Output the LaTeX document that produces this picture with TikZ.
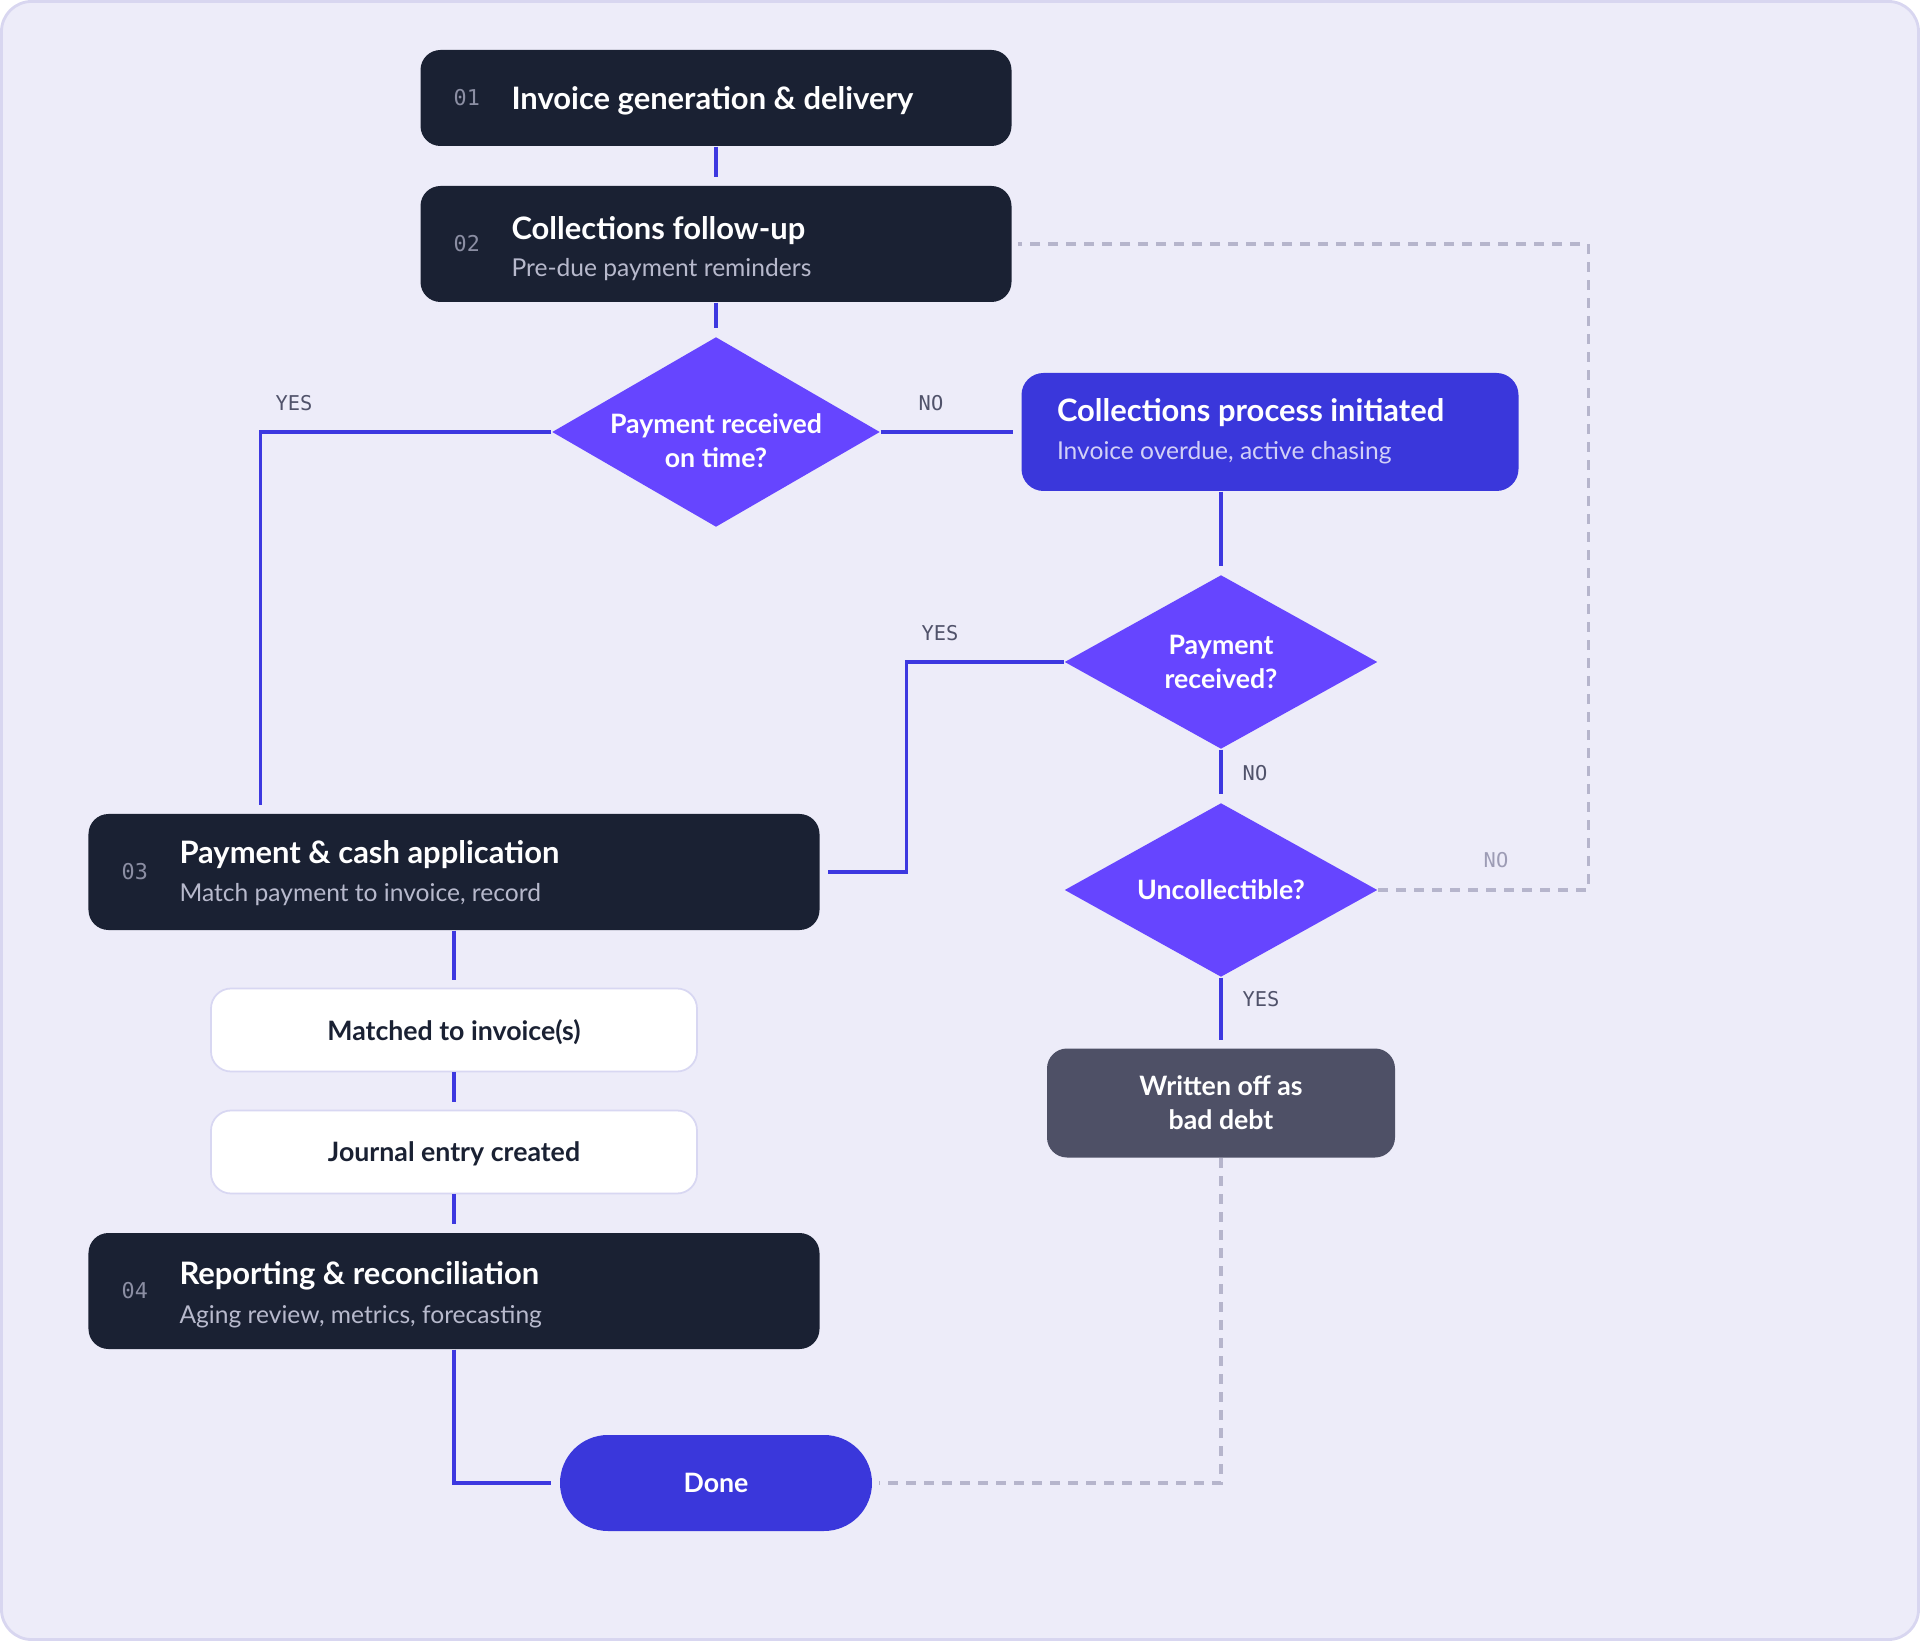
\documentclass[tikz,border=0pt]{standalone}
\usepackage{fontspec}
\setmainfont{Lato}
\newfontfamily\monofam{DejaVu Sans Mono}
\usetikzlibrary{shapes.geometric}
\newcommand{\stepfnt}{\fontsize{8.8}{10.5}\selectfont\bfseries}
\newcommand{\subfnt}{\fontsize{7}{8.4}\selectfont}
\newcommand{\askfnt}{\fontsize{7.6}{9.7}\selectfont\bfseries}
\newcommand{\numfnt}{\monofam\fontsize{6.2}{7}\selectfont}
\newcommand{\lblfnt}{\monofam\fontsize{5.8}{7}\selectfont}
\definecolor{canvas}{HTML}{EDECF9}
\definecolor{frame}{HTML}{D8D6F0}
\definecolor{ink}{HTML}{1A2133}
\definecolor{wire}{HTML}{3D38E0}
\definecolor{violet}{HTML}{6645FF}
\definecolor{royal}{HTML}{3A37DB}
\definecolor{slate}{HTML}{4E5066}
\definecolor{dashgray}{HTML}{B6B5CC}
\definecolor{numgray}{HTML}{8B8EA3}
\definecolor{hintgray}{HTML}{B7B9CC}
\definecolor{chasegray}{HTML}{D2D0F7}
\definecolor{rim}{HTML}{D8D7F2}
\definecolor{lblgray}{HTML}{50526A}
\definecolor{lblpale}{HTML}{9D9CB5}

\begin{document}
\begin{tikzpicture}[
  x=1mm, y=1mm,
  stage/.style={fill=ink, rounded corners=2mm, inner sep=0pt, minimum width=59.1mm, minimum height=11.6mm},
  wide/.style={stage, minimum width=73.1mm},
  chase/.style={fill=royal, rounded corners=2.2mm, inner sep=0pt, minimum width=49.7mm, minimum height=11.8mm},
  note/.style={fill=white, draw=rim, line width=0.5pt, rounded corners=2mm, minimum width=48.6mm, minimum height=8.3mm, text depth=0pt, font=\askfnt, text=ink},
  ask/.style={diamond, fill=violet, aspect=1.7, inner sep=0pt, minimum width=31.3mm, minimum height=17.4mm, align=center, font=\askfnt, text=white},
  asktext/.style={align=center, font=\askfnt, text=white, inner sep=0pt},
  loss/.style={fill=slate, rounded corners=2mm, minimum width=34.8mm, minimum height=10.9mm, align=center, font=\askfnt, text=white},
  term/.style={fill=royal, rounded corners=4.8mm, minimum width=31.2mm, minimum height=9.6mm, text depth=0pt, font=\askfnt, text=white},
  num/.style={font=\numfnt, text=numgray, inner sep=0pt},
  head/.style={font=\stepfnt, text=white, anchor=base west, inner sep=0pt},
  hint/.style={font=\subfnt, text=hintgray, anchor=base west, inner sep=0pt},
  lbl/.style={font=\lblfnt, text=lblgray, inner sep=0pt},
  flow/.style={draw=wire, line width=0.9pt, shorten >=0.8mm},
  back/.style={draw=dashgray, line width=0.9pt, dash pattern=on 1mm off 0.8mm, shorten >=0.6mm},
]
  \useasboundingbox (0,0) rectangle (192,-164.1);
  \fill[white] (0,0) rectangle (192,-164.1);
  \draw[frame, fill=canvas, line width=0.8pt, rounded corners=3mm] (0.15,-0.15) rectangle (191.85,-163.95);

  \node[stage, minimum height=9.6mm] (inv) at (71.6,-9.8) {};
  \node[num] (inv-n) at ([xshift=4.7mm]inv.west) {01};
  \node[head] (inv-t) at ([xshift=9.1mm, yshift=-1.2mm]inv.west) {Invoice generation \& delivery};

  \node[stage] (fup) at (71.6,-24.4) {};
  \node[num] (fup-n) at ([xshift=4.7mm]fup.west) {02};
  \node[head] (fup-t) at ([xshift=9.1mm, yshift=0.45mm]fup.west) {Collections follow-up};
  \node[hint] (fup-s) at ([xshift=9.1mm, yshift=-3.25mm]fup.west) {Pre-due payment reminders};

  \node[ask, minimum width=32.8mm, minimum height=19mm] (ontime) at (71.6,-43.2) {};
  \node[asktext] (ontime-t) at ([yshift=-0.85mm]ontime.center) {Payment received\\on time?};

  \node[chase] (coll) at (127,-43.2) {};
  \node[head] (coll-t) at ([xshift=3.55mm, yshift=1.0mm]coll.west) {Collections process initiated};
  \node[hint, text=chasegray] (coll-s) at ([xshift=3.55mm, yshift=-2.75mm]coll.west) {Invoice overdue, active chasing};

  \node[ask] (paid) at (122.1,-66.2) {Payment\\received?};
  \node[ask] (bad) at (122.1,-89) {Uncollectible?};
  \node[loss] (woff) at (122.1,-110.3) {Written off as\\bad debt};

  \node[wide] (cash) at (45.4,-87.2) {};
  \node[num] (cash-n) at ([xshift=4.7mm]cash.west) {03};
  \node[head] (cash-t) at ([xshift=9.1mm, yshift=0.85mm]cash.west) {Payment \& cash application};
  \node[hint] (cash-s) at ([xshift=9.1mm, yshift=-3.0mm]cash.west) {Match payment to invoice, record};

  \node[note] (match) at (45.4,-103) {Matched to invoice(s)};
  \node[note] (jrnl) at (45.4,-115.2) {Journal entry created};

  \node[wide] (rep) at (45.4,-129.1) {};
  \node[num] (rep-n) at ([xshift=4.7mm]rep.west) {04};
  \node[head] (rep-t) at ([xshift=9.1mm, yshift=0.7mm]rep.west) {Reporting \& reconciliation};
  \node[hint] (rep-s) at ([xshift=9.1mm, yshift=-3.25mm]rep.west) {Aging review, metrics, forecasting};

  \node[term] (done) at (71.6,-148.3) {Done};

  % main path
  \draw[flow] (inv) -- (fup);
  \draw[flow] (fup) -- (ontime);
  \draw[flow] (ontime.west) -| ([xshift=17.3mm]cash.north west);
  \draw[flow] (ontime.east) -- (coll.west);
  \draw[flow] (coll.south -| paid.north) -- (paid.north);
  \draw[flow] (paid.west) -- ++(-15.7,0) |- (cash.east);
  \draw[flow] (paid) -- (bad);
  \draw[flow] (bad) -- (woff);
  \draw[flow] (cash) -- (match);
  \draw[flow] (match) -- (jrnl);
  \draw[flow] (jrnl) -- (rep);
  \draw[flow] (rep.south) |- (done.west);

  % loops back and write-off exit
  \draw[back] (bad.east) -- ++(21,0) |- (fup.east);
  \draw[back] (woff.south) |- (done.east);

  \node[lbl] (yes-a) at (29.4,-40.3) {YES};
  \node[lbl] (no-a) at (93.1,-40.3) {NO};
  \node[lbl] (yes-b) at (94.0,-63.3) {YES};
  \node[lbl] (no-b) at (125.5,-77.3) {NO};
  \node[lbl] (yes-c) at (126.1,-99.9) {YES};
  \node[lbl, text=lblpale] (no-c) at (149.6,-86.0) {NO};
\end{tikzpicture}
\end{document}
